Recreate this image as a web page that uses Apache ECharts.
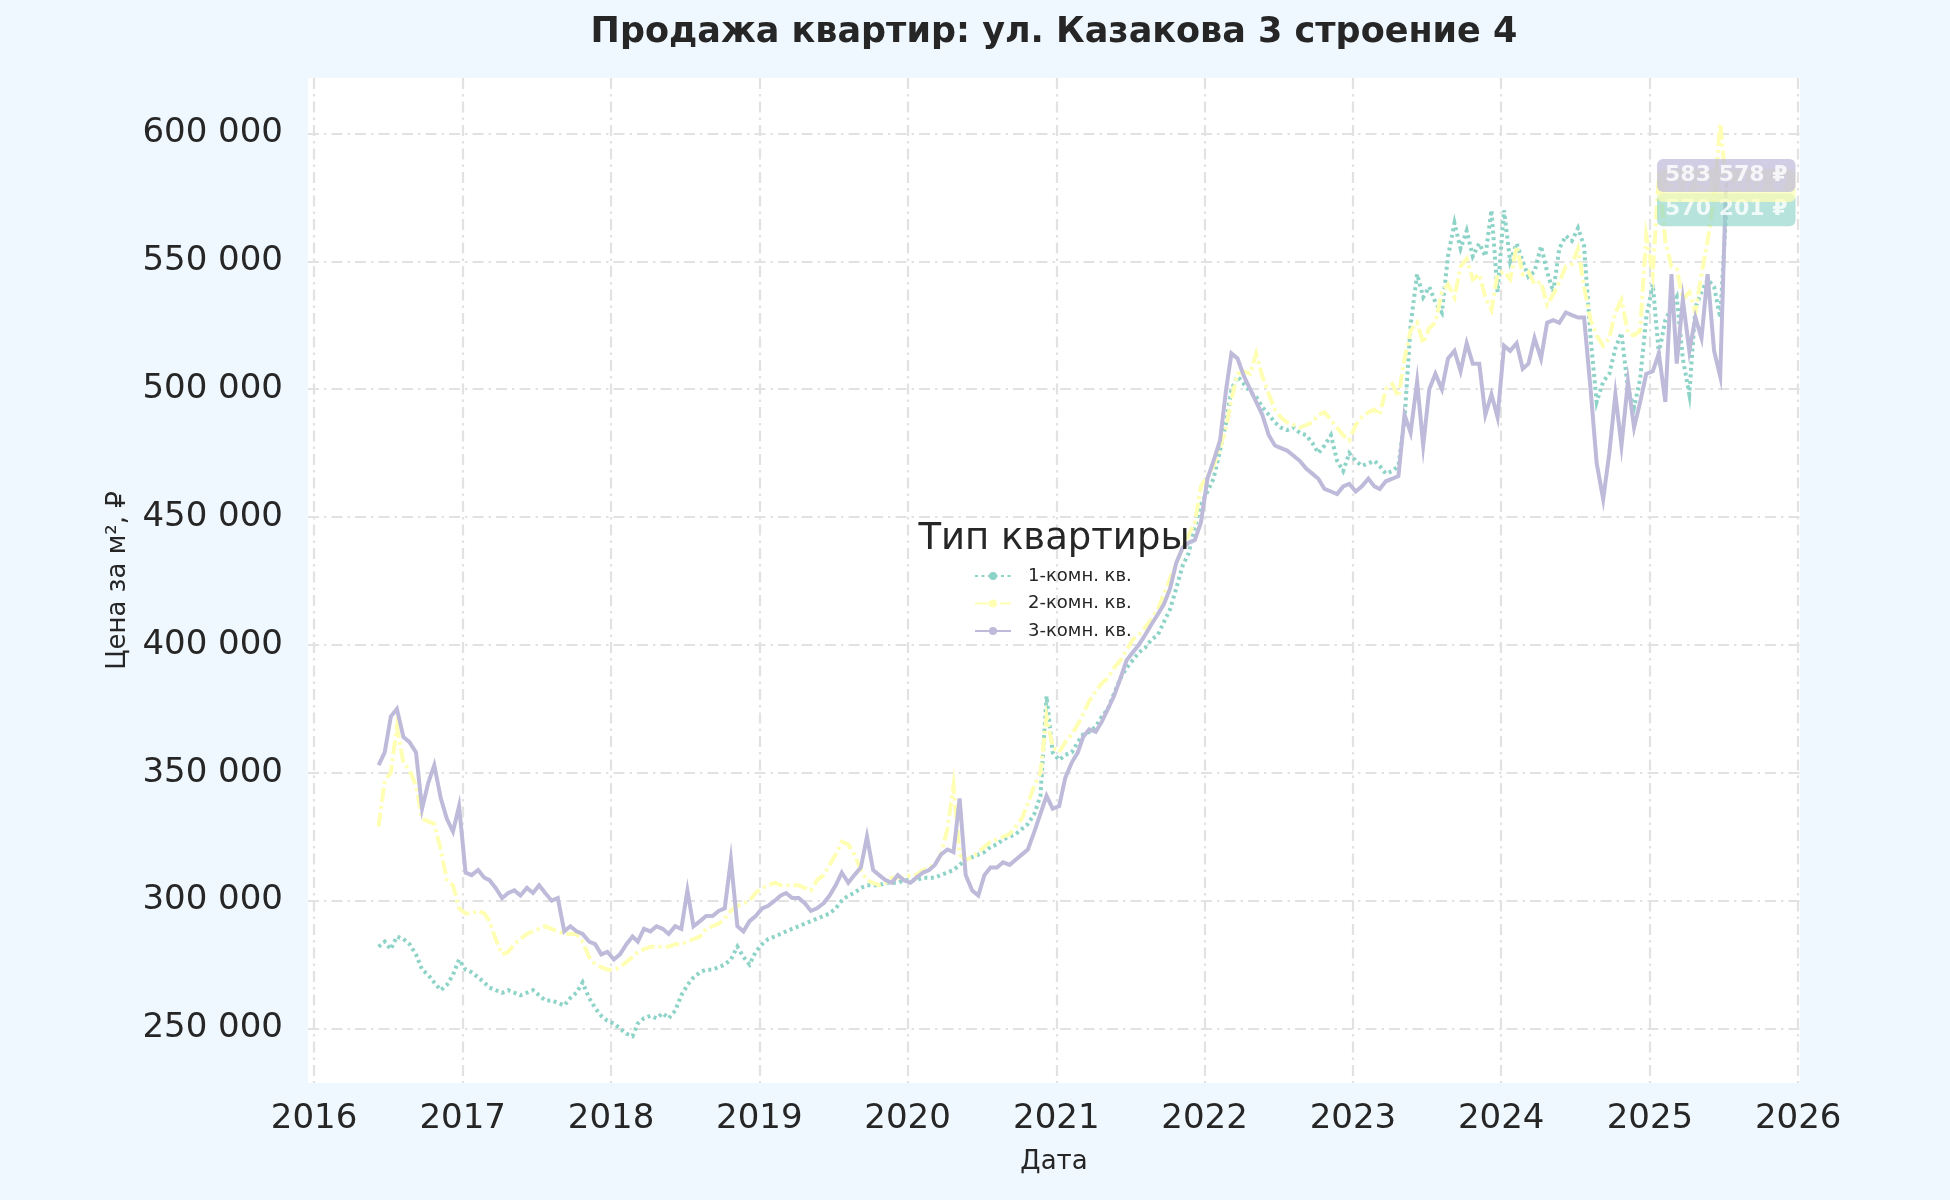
<!DOCTYPE html>
<html><head><meta charset="utf-8">
<script src="https://cdn.jsdelivr.net/npm/echarts@6/dist/echarts.min.js"></script>
<style>html,body{margin:0;padding:0;background:#f0f8ff}#c{width:1950px;height:1200px}</style>
</head><body><div id="c"></div>
<script>
const titleText = 'Продажа квартир: ул. Казакова 3 строение 4';
const legendTitle = 'Тип квартиры';
const xAxisName = 'Дата';
const yAxisName = 'Цена за м², ₽';
const seriesNames = ['1-комн. кв.', '2-комн. кв.', '3-комн. кв.'];
const yTicks = [250000, 300000, 350000, 400000, 450000, 500000, 550000, 600000];
const xTickYears = [2016, 2017, 2018, 2019, 2020, 2021, 2022, 2023, 2024, 2025, 2026];

// observation dates: 8th and 23rd of each month, 2016-06-08 .. 2025-07-08
const dates = [];
for (let y = 2016; y <= 2025; y++) {
  for (let m = (y === 2016 ? 5 : 0); m < 12; m++) {
    for (const d of [8, 23]) {
      const t = Date.UTC(y, m, d);
      if (t <= Date.UTC(2025, 6, 8)) dates.push(t);
    }
  }
}

const oneRoom = [
282000,284000,281000,286000,285000,283000,279000,273000,271000,268000,265000,267000,271000,277000,
273000,272000,270000,268000,266000,265000,264000,265000,264000,263000,264000,265000,263000,261000,
261000,260000,259000,262000,264000,268000,262000,258000,255000,253000,252000,250000,248000,247000,
252000,254000,255000,254000,256000,254000,257000,263000,267000,270000,272000,273000,273000,274000,
275000,277000,282000,278000,275000,280000,283000,285000,286000,287000,288000,289000,290000,291000,
292000,293000,294000,295000,297000,300000,302000,303000,305000,306000,306000,306000,307000,307000,
307000,308000,308000,308000,309000,309000,309000,310000,311000,312000,314000,316000,317000,318000,
319000,321000,322000,324000,325000,326000,328000,330000,334000,341000,380000,358000,355000,357000,
358000,362000,365000,366000,368000,372000,375000,381000,387000,391000,394000,397000,399000,402000,
404000,409000,414000,422000,431000,436000,446000,455000,460000,465000,476000,487000,500000,505000,
502000,499000,497000,493000,490000,487000,485000,484000,485000,483000,482000,479000,475000,478000,
482000,472000,468000,475000,472000,470000,471000,472000,470000,467000,468000,470000,488000,525000,
545000,536000,540000,534000,530000,552000,565000,555000,562000,552000,557000,552000,570000,538000,
570000,550000,557000,550000,544000,546000,556000,546000,538000,555000,560000,558000,563000,556000,
520000,495000,503000,506000,516000,522000,500000,493000,504000,528000,541000,514000,527000,532000,
536000,512000,498000,532000,538000,543000,540000,528000,570201
];

const twoRoom = [
329000,347000,350000,368000,354000,351000,345000,332000,331000,330000,320000,308000,306000,297000,
295000,295000,296000,295000,292000,285000,279000,280000,283000,285000,287000,288000,289000,290000,
289000,288000,287000,287000,287000,284000,278000,275000,274000,273000,273000,274000,276000,278000,
280000,281000,282000,282000,282000,282000,283000,283000,284000,285000,286000,289000,290000,291000,
293000,296000,298000,299000,300000,303000,305000,306000,307000,306000,306000,306000,306000,305000,
304000,308000,310000,314000,318000,323000,322000,318000,312000,308000,307000,306000,307000,309000,
309000,309000,310000,310000,312000,313000,314000,318000,328000,345000,318000,316000,317000,319000,
321000,323000,324000,325000,326000,329000,332000,338000,345000,350000,372000,360000,358000,362000,
365000,369000,373000,378000,382000,385000,387000,391000,394000,398000,402000,404000,407000,410000,
414000,420000,426000,432000,438000,443000,448000,462000,466000,470000,477000,485000,496000,506000,
507000,506000,514000,505000,498000,492000,489000,487000,486000,485000,486000,487000,490000,491000,
488000,485000,482000,480000,486000,489000,491000,492000,490000,500000,502000,497000,512000,523000,
526000,518000,524000,526000,538000,541000,536000,548000,551000,543000,545000,536000,531000,545000,
546000,543000,556000,545000,546000,541000,542000,533000,537000,542000,548000,549000,555000,540000,
527000,521000,517000,520000,530000,535000,522000,521000,523000,560000,545000,584000,558000,548000,
547000,535000,538000,530000,545000,558000,575000,604000,579640
];

const threeRoom = [
353000,358000,372000,375000,364000,362000,358000,336000,346000,353000,340000,332000,327000,337000,
311000,310000,312000,309000,308000,305000,301000,303000,304000,302000,305000,303000,306000,303000,
300000,301000,288000,290000,288000,287000,284000,283000,279000,280000,277000,279000,283000,286000,
284000,289000,288000,290000,289000,287000,290000,289000,304000,290000,292000,294000,294000,296000,
297000,316000,290000,288000,292000,294000,297000,298000,300000,302000,303000,301000,301000,299000,
296000,297000,299000,302000,306000,311000,307000,310000,313000,325000,312000,310000,308000,307000,
310000,308000,307000,309000,311000,312000,314000,318000,320000,319000,340000,310000,304000,302000,
310000,313000,313000,315000,314000,316000,318000,320000,327000,334000,341000,336000,337000,348000,
354000,358000,364000,367000,366000,370000,375000,380000,387000,394000,397000,400000,404000,408000,
412000,416000,422000,432000,438000,440000,441000,448000,465000,472000,480000,500000,514000,512000,
505000,500000,495000,490000,482000,478000,477000,476000,474000,472000,469000,467000,465000,461000,
460000,459000,462000,463000,460000,462000,465000,462000,461000,464000,465000,466000,490000,483000,
503000,478000,500000,506000,500000,512000,515000,507000,518000,510000,510000,490000,498000,489000,
517000,515000,518000,508000,510000,520000,512000,526000,527000,526000,530000,529000,528000,528000,
500000,471000,457000,475000,498000,478000,503000,485000,495000,506000,507000,514000,495000,545000,
510000,535000,515000,528000,520000,545000,515000,505000,583578
];

const valueSets = [oneRoom, twoRoom, threeRoom];
const FONT = 'DejaVu Sans';
const INK = '#262626';
const palette = ['#8dd3c7', '#ffffb3', '#bebada'];
const labelBg = ['rgba(141,211,199,0.8)', 'rgba(255,255,179,0.9)', 'rgba(190,186,218,0.9)'];
const dashes = [[3, 3.5], [14, 4, 3, 4], 'solid'];

function fmt(v) { return String(Math.round(v)).replace(/\B(?=(\d{3})+(?!\d))/g, ' '); }
function textWidth(t, font) {
  const c = document.createElement('canvas').getContext('2d');
  c.font = font; return c.measureText(t).width;
}

const gridLeft = 308, gridRight = 1800, gridTop = 78, gridBottom = 1083;
const plotCenter = (gridLeft + gridRight) / 2;
const DAY = 86400000;
const xMin = Date.UTC(2016, 0, 1) - 14.8 * DAY;
const xMax = Date.UTC(2026, 0, 1) + 4.4 * DAY;
const xTicks = xTickYears.map(y => Date.UTC(y, 0, 1));

const gridLineStyle = { color: '#e2e2e2', width: 2.2, type: [11, 5, 2.5, 5] };

const series = [];
valueSets.forEach((vals, i) => {
  series.push({
    name: seriesNames[i], type: 'line', z: 3 + i,
    data: dates.map((t, k) => [t, vals[k]]),
    showSymbol: false, symbol: 'circle', symbolSize: 5,
    lineStyle: { color: palette[i], width: 4, type: dashes[i], cap: 'butt', join: 'miter' },
    itemStyle: { color: palette[i] },
    emphasis: { disabled: true }, silent: true
  });
});
valueSets.forEach((vals, i) => {
  series.push({
    name: 'label' + i, type: 'scatter', z: 20 + i, zlevel: 0, silent: true,
    data: [[dates[dates.length - 1], vals[vals.length - 1]]],
    symbol: 'circle', symbolSize: 2, itemStyle: { color: 'rgba(0,0,0,0)' },
    label: {
      show: true, position: 'inside', formatter: p => fmt(p.value[1]) + ' ₽',
      backgroundColor: labelBg[i], borderRadius: 6, padding: [6, 8, 5, 8],
      color: '#ffffff', fontWeight: 'bold', fontSize: 22, fontFamily: FONT
    },
    labelLayout: { hideOverlap: false }
  });
});

const titleW = textWidth(titleText, 'bold 35px "DejaVu Sans"');
const legTitleW = textWidth(legendTitle, '37px "DejaVu Sans"');

const chart = echarts.init(document.getElementById('c'), null, { renderer: 'canvas' });
chart.setOption({
  animation: false,
  backgroundColor: '#f0f8ff',
  textStyle: { fontFamily: FONT },
  title: [
    { text: titleText, left: plotCenter - titleW / 2, top: 15, padding: 0,
      textStyle: { fontSize: 35, fontWeight: 'bold', color: INK, fontFamily: FONT } },
    { text: legendTitle, left: plotCenter - legTitleW / 2, top: 521, padding: 0,
      textStyle: { fontSize: 37, fontWeight: 'normal', color: INK, fontFamily: FONT } }
  ],
  legend: {
    data: seriesNames, orient: 'vertical', left: 974, top: 567, padding: 0,
    itemWidth: 36, itemHeight: 10, itemGap: 9.5,
    textStyle: { fontSize: 18, color: INK, fontFamily: FONT, padding: [0, 0, 0, 12] },
    selectedMode: false
  },
  grid: { left: gridLeft, right: 1950 - gridRight, top: gridTop, bottom: 1200 - gridBottom,
    show: true, backgroundColor: '#ffffff', borderWidth: 0, containLabel: false },
  xAxis: {
    type: 'value', min: xMin, max: xMax,
    name: xAxisName, nameLocation: 'middle', nameGap: 66,
    nameTextStyle: { fontSize: 26, color: INK, fontFamily: FONT },
    axisLine: { show: false },
    axisTick: { show: false, customValues: xTicks },
    axisLabel: { customValues: xTicks, fontSize: 34, color: INK, margin: 19, fontFamily: FONT,
      formatter: v => String(new Date(v).getUTCFullYear()) },
    splitLine: { show: true, lineStyle: gridLineStyle }
  },
  yAxis: {
    type: 'value', min: 228700, max: 621700,
    name: yAxisName, nameLocation: 'middle', nameGap: 174,
    nameTextStyle: { fontSize: 26, color: INK, fontFamily: FONT },
    axisLine: { show: false },
    axisTick: { show: false, customValues: yTicks },
    axisLabel: { customValues: yTicks, fontSize: 34, color: INK, margin: 25, fontFamily: FONT,
      formatter: v => fmt(v) },
    splitLine: { show: true, lineStyle: gridLineStyle }
  },
  series: series
});
</script></body></html>
